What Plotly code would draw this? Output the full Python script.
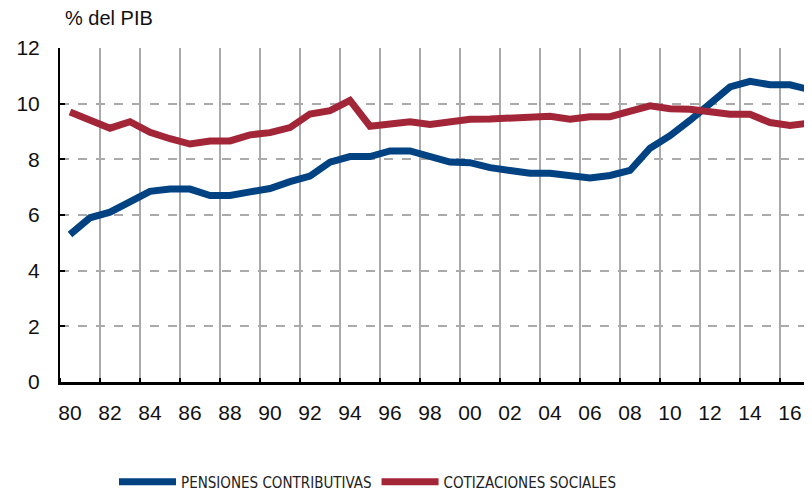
import plotly.graph_objects as go

years = list(range(1980, 2018))
pensiones = [5.3, 5.9, 6.1, 6.5, 6.85, 6.93, 6.93, 6.7, 6.7, 6.83,
             6.95, 7.2, 7.4, 7.9, 8.1, 8.1, 8.3, 8.3, 8.1, 7.9,
             7.88, 7.7, 7.6, 7.5, 7.5, 7.42, 7.33, 7.42, 7.6, 8.4,
             8.85, 9.4, 10.0, 10.6, 10.8, 10.68, 10.68, 10.5]
cotizaciones = [9.7, 9.4, 9.12, 9.35, 8.97, 8.74, 8.55, 8.66, 8.66, 8.88,
                8.96, 9.14, 9.63, 9.75, 10.12, 9.19, 9.27, 9.35, 9.25, 9.34,
                9.44, 9.45, 9.47, 9.55, 9.55, 9.44, 9.53, 9.53, 9.74, 9.92,
                9.82, 9.8, 9.71, 9.62, 9.62, 9.32, 9.22, 9.3]
tick_years = list(range(1980, 2019, 2))
tick_labels = ["%02d" % (y % 100) for y in tick_years]
y_ticks = [0, 2, 4, 6, 8, 10, 12]

BLUE = "#004282"
RED = "#A32638"

# page body has an 8px margin; figure coordinates are window coordinates - 8
L, T, B = 52, 40, 374
PW, PH = 752, B - T

fig = go.Figure()
fig.add_trace(go.Scatter(x=years, y=pensiones, mode="lines",
                         name="PENSIONES CONTRIBUTIVAS",
                         line=dict(color=BLUE, width=7)))
fig.add_trace(go.Scatter(x=years, y=cotizaciones, mode="lines",
                         name="COTIZACIONES SOCIALES",
                         line=dict(color=RED, width=7)))

fig.update_layout(
    width=812, height=490,
    margin=dict(l=L, r=812 - L - PW, t=T, b=490 - B, autoexpand=False),
    plot_bgcolor="white", paper_bgcolor="white",
    font=dict(family="Liberation Sans, Arial, sans-serif", size=21, color="#111111"),
    showlegend=True,
    legend=dict(orientation="h", x=(106 - L) / PW, y=(B - 474) / PH,
                xanchor="left", yanchor="middle",
                font=dict(family="DejaVu Sans Condensed, sans-serif",
                          size=15, color="#222222"),
                itemwidth=57, bgcolor="rgba(0,0,0,0)"),
    xaxis=dict(range=[1979.5, 2017.1], tickmode="array", tickvals=tick_years,
               ticktext=tick_labels, showgrid=False, zeroline=False, automargin=False,
               showline=True, linecolor="black", linewidth=2.5,
               ticks="", ticklabelstandoff=10,
               minor=dict(tick0=1979.5, dtick=2, showgrid=True, gridcolor="#aaaaaa",
                          gridwidth=2, ticks="inside", ticklen=4, tickcolor="black",
                          tickwidth=2)),
    yaxis=dict(range=[0, 12], tickmode="array", tickvals=y_ticks, automargin=False,
               showgrid=True, gridcolor="#aaaaaa", gridwidth=2, griddash="dash",
               zeroline=False, showline=True, linecolor="black", linewidth=2,
               ticks="inside", ticklen=5, tickcolor="black", tickwidth=2,
               ticklabelstandoff=14),
)
fig.add_annotation(text="% del PIB", xref="paper", yref="paper",
                   x=(55 - L) / PW, y=(B - 10) / PH, xanchor="left", yanchor="middle",
                   showarrow=False, font=dict(size=20, color="#111111"))

fig.write_html("out.html")
